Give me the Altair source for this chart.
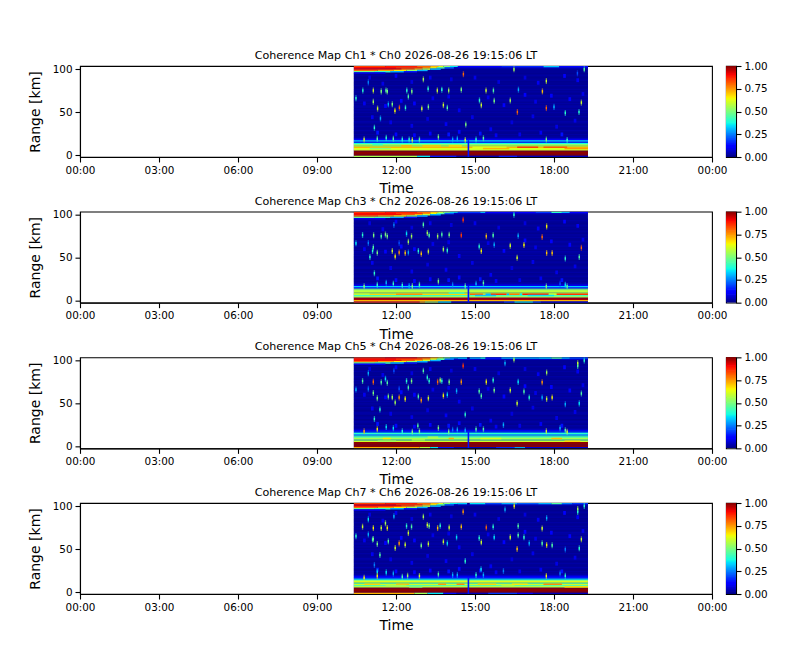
import altair as alt
import pandas as pd

FONT = "DejaVu Sans"
T0, T1 = 10.4, 19.29
Y_MIN, Y_MAX = -2.25, 103.5
HOUR_TICKS = [0, 3, 6, 9, 12, 15, 18, 21, 24]
RANGE_TICKS = [0, 50, 100]
BAR_TICKS = [0, 0.25, 0.5, 0.75, 1]
TITLES = ["Ch1 * Ch0", "Ch3 * Ch2", "Ch5 * Ch4", "Ch7 * Ch6"]
STAMP = "2026-08-26 19:15:06 LT"
JET_STOPS = [0, .11, .125, .34, .35, .375, .64, .65, .66, .89, .91, 1]
JET_COLORS = ["#000080", "#0000ff", "#0000ff", "#00dbff", "#00e5f8", "#15ffe2",
              "#eeff08", "#f6f600", "#ffec00", "#ff1300", "#f60000", "#800000"]
BAR_LEVELS = [i / 128 for i in range(128)]

# background rows, starting at 18.75 km, 1.5 km apart
BASE_ROWS = [.05, .03, .02, .03, .015, .02, .035, .02, .015, .03, .02, .015, .03, .035, .02, .015, .02, .03, .015, .02,
             .03, .02, .035, .02, .03, .035, .02, .03, .02, .035, .03, .02, .03, .035, .02, .015, .03, .02, .03, .015,
             .02, .03, .015, .02, .015, .03, .02, .015, .02, .03, .015]

# faint patches: hour, km, value
FAINT = [(11.0, 90, .08), (11.5, 83, .09), (12.0, 92, .1), (12.6, 85, .08), (13.3, 90, .09), (14.1, 88, .08),
         (15.0, 90, .09), (15.9, 85, .08), (16.9, 90, .08), (17.4, 84, .1), (18.4, 92, .11), (18.9, 87, .1),
         (10.8, 60, .1), (11.6, 57, .12), (12.2, 63, .13), (12.7, 60, .11), (13.4, 66, .09), (14.0, 68, .09),
         (14.4, 52, .1), (15.5, 67, .09), (16.1, 58, .11), (16.9, 70, .12), (17.3, 62, .09), (17.9, 69, .11),
         (18.6, 65, .12), (19.1, 71, .09), (11.1, 44, .1), (11.8, 38, .09), (12.6, 34, .09), (13.2, 42, .08),
         (13.9, 36, .1), (14.9, 44, .09), (15.6, 30, .1), (16.4, 38, .08), (17.2, 45, .09), (18.1, 33, .09),
         (18.8, 40, .09), (11.3, 26, .14), (12.0, 24, .13), (12.7, 23, .12), (13.3, 25, .12), (14.0, 24, .14),
         (14.4, 27, .13), (15.2, 25, .14), (15.8, 23, .1), (16.7, 24, .09), (17.5, 26, .1), (18.3, 24, .14)]

# top echo: hour from, hour to, row bottom km, value
TOP_BAND = [(10.4, 11.6, 102, .84), (11.6, 12.8, 102, .88), (12.8, 13.3, 102, .8), (13.3, 13.6, 102, .72), (13.6, 13.8, 102, .62),
            (13.8, 14.05, 102, .5), (14.05, 14.35, 102, .36),
            (10.4, 12.0, 100.5, .9), (12.0, 13.0, 100.5, .85), (13.0, 13.3, 100.5, .76), (13.3, 13.55, 100.5, .64), (13.55, 13.85, 100.5, .45),
            (13.85, 14.2, 100.5, .22), (14.2, T1, 100.5, .06),
            (10.4, 12.2, 99, .9), (12.2, 12.7, 99, .82), (12.7, 13.0, 99, .72), (13.0, 13.3, 99, .58), (13.3, 13.7, 99, .3),
            (10.4, 11.3, 97.5, .8), (11.3, 11.9, 97.5, .74), (11.9, 12.4, 97.5, .66), (12.4, 12.8, 97.5, .52), (12.8, 13.2, 97.5, .3),
            (10.4, 11.2, 96, .48), (11.2, 11.8, 96, .42), (11.8, 12.3, 96, .3), (12.3, 12.8, 96, .15),
            (10.4, 11.6, 94.5, .1)]

TOP_TAIL = [
    [(14.35, 16.0, .12), (16.0, 17.6, .16), (17.6, 18.2, .32), (18.2, T1, .13)],
    [(14.35, 15.2, .18), (15.2, 15.4, .3), (15.4, 17.3, .12), (17.3, 17.9, .18), (17.9, 18.3, .4), (18.3, 18.6, .3), (18.6, T1, .12)],
    [(14.35, 14.7, .33), (14.8, 15.2, .3), (15.2, 15.4, .38), (15.4, 16, .15), (16, 17.4, .3), (17.4, 17.9, .33),
     (17.9, 18.3, .45), (18.3, 18.6, .3), (18.6, T1, .2)],
    [(14.35, 14.7, .33), (14.8, 15.4, .35), (15.4, 16, .2), (16, 16.6, .3), (16.6, 17.4, .22), (17.4, 17.9, .3),
     (17.9, 18.3, .45), (18.3, 18.7, .25), (18.7, T1, .18)],
]

# low rows: bottom km, value
LOW_ROWS = [
    [(-.75, .99), (.75, .99), (2.25, .99), (3.75, .99), (5.25, .6), (6.75, .62), (8.25, .72), (9.75, .6), (11.25, .52),
     (12.75, .38), (14.25, .17), (15.75, .33), (17.25, .1)],
    [(-.75, .72), (.75, .97), (2.25, .97), (3.75, .56), (5.25, .42), (6.75, .68), (8.25, .55), (9.75, .58), (11.25, .56),
     (12.75, .5), (14.25, .14), (15.75, .33), (17.25, .1)],
    [(-.75, .99), (.75, .99), (2.25, .99), (3.75, .99), (5.25, .6), (6.75, .48), (8.25, .56), (9.75, .47), (11.25, .42),
     (12.75, .25), (14.25, .4), (15.75, .25), (17.25, .1)],
    [(-.75, .99), (.75, .99), (2.25, .99), (3.75, .99), (5.25, .6), (6.75, .45), (8.25, .6), (9.75, .45), (11.25, .62),
     (12.75, .52), (14.25, .36), (15.75, .15), (17.25, .1)],
]

# lowest row, time varying: hour from, hour to, value
BOTTOM_ROW = [
    [(T0, 12.8, .55), (12.8, 13.3, .35), (13.3, 14.3, .15), (14.3, 15.9, .04), (15.9, 16.6, .15), (16.6, T1, .05)],
    [(T0, 12.9, .86), (12.9, 13.1, .72), (13.1, 13.6, .55), (13.6, 14.1, .35), (14.1, 16.1, .05), (16.1, 16.5, .18),
     (16.5, 17.2, .36), (17.2, 17.5, .2), (17.5, T1, .07)],
    [(T0, 12.9, .72), (12.9, 13.3, .58), (13.3, 13.6, .35), (13.6, 14.2, .14), (14.2, 15.8, .05), (15.8, 16.5, .16),
     (16.5, 16.9, .28), (16.9, T1, .07)],
    [(T0, 12.7, .72), (12.7, 13.2, .55), (13.2, 13.8, .35), (13.8, 14.3, .14), (14.3, 15.5, .05), (15.5, 16.6, .18),
     (16.6, 17.2, .13), (17.2, T1, .05)],
]

# streaks in the low rows: hour from, hour to, row bottom km, value
STREAKS = [
    [(13.0, 13.7, 9.75, .7), (14.9, 16.2, 8.25, .62), (16.6, 17.4, 8.25, .85), (17.6, 18.5, 8.25, .82), (11.1, 11.5, 11.25, .42),
     (12.2, 12.6, 9.75, .72), (14.0, 14.5, 9.75, .68), (11.0, 11.8, 6.75, .52), (15.3, 16.3, 6.75, .72), (18.4, T1, 6.75, .75)],
    [(10.4, 11.0, 6.75, .58), (12.0, 13.0, 6.75, .75), (14.8, 15.3, 6.75, .8), (15.4, 15.6, 6.75, .3), (15.6, 16.2, 6.75, .86),
     (16.2, 16.3, 6.75, .3), (16.3, 16.7, 6.75, .78), (16.7, 16.8, 6.75, .35), (16.8, 17.8, 6.75, .88), (17.8, 18.1, 6.75, .6),
     (18.1, T1, 6.75, .85), (14.0, 14.6, 8.25, .42), (15.0, 15.8, 5.25, .32), (17.0, 18.0, 5.25, .35)],
    [(11.5, 11.8, 8.25, .66), (13.2, 13.6, 9.75, .55), (14.0, 14.2, 8.25, .72), (15.2, 16.0, 8.25, .62), (17.9, 18.3, 8.25, .7),
     (18.4, 19.0, 5.25, .68), (11.3, 12.0, 5.25, .55), (12.6, 13.1, 6.75, .56)],
    [(10.8, 11.4, 8.25, .68), (12.0, 12.5, 8.25, .7), (13.6, 13.9, 8.25, .74), (14.3, 14.6, 8.25, .76), (15.1, 15.8, 8.25, .68),
     (16.4, 17.0, 8.25, .66), (17.6, 18.3, 8.25, .76), (11.6, 12.4, 6.75, .54), (16.0, 16.5, 6.75, .55), (18.4, T1, 5.25, .68),
     (12.5, 13.0, 5.25, .5)],
]

# break in the record
GAP = [(14.72, 14.78, -2.25, 17.25, .14)]

# isolated returns: hour, km, value
SPIKES = [
    [(10.95, 84.5, .25), (13.04, 88, .55), (14.56, 94, .8), (16.48, 99.6, .55), (19.15, 99.6, .45), (18.89, 95, .2), (17.71, 86, .6),
     (11.14, 75, .6), (10.74, 75, .4), (11.44, 74, .5), (11.62, 75, .45), (11.67, 74, .5), (12.41, 75, .4), (12.6, 74, .5), (13.22, 77, .4),
     (13.57, 75, .6), (13.74, 76, .4), (14.0, 75, .55), (14.48, 76, .5), (15.42, 75, .6), (15.7, 75, .45), (16.65, 76, .3), (17.56, 74, .7),
     (10.48, 66, .4), (11.14, 62, .55), (12.47, 68, .45), (13.8, 58, .6), (13.95, 55, .45), (15.17, 63.5, .4), (15.24, 58, .6), (15.73, 63, .5),
     (16.34, 63.5, .55), (16.61, 50, .8), (17.71, 54.6, .8), (18.0, 56, .3), (19.04, 61, .6), (18.95, 50, .4), (18.43, 49, .4), (11.3, 54, .6),
     (11.71, 59, .3), (11.86, 59, .5), (11.96, 51.5, .65), (12.13, 55, .8), (12.36, 55, .4), (12.98, 54, .6), (13.23, 56, .5), (11.41, 42.6, .3),
     (11.18, 31.8, .4), (14.65, 35.6, .5),
     (10.79, 18, .6), (11.29, 19, .45), (11.63, 20, .4), (11.9, 19, .45), (12.24, 18, .4), (12.5, 18, .4), (12.62, 17.5, .6), (12.89, 18, .45),
     (13.61, 21, .5), (14.15, 18, .3), (14.33, 19, .3), (14.63, 17.5, .6), (15.04, 18, .4), (15.32, 19.5, .45), (17.71, 18, .5), (18.5, 17.5, .4)],
    [(14.55, 94, .85), (13.04, 88.4, .45), (17.72, 86.4, .65), (11.92, 88, .25), (10.73, 76.3, .4), (11.15, 76, .5), (11.44, 75, .45), (11.6, 77, .5),
     (11.67, 75, .5), (12.4, 78, .35), (12.59, 75, .55), (13.19, 78.7, .55), (13.26, 76, .45), (13.58, 75, .55), (13.74, 77, .45), (14.02, 76.7, .5),
     (14.48, 76, .85), (15.43, 75, .7), (15.69, 76, .45), (16.64, 75.6, .3), (17.55, 74, .8), (10.48, 66.7, .35), (11.14, 62, .45), (10.95, 67, .25),
     (12.47, 68.6, .55), (12.12, 67, .2), (13.8, 59.7, .55), (13.95, 58.5, .4), (15.16, 63, .4), (15.24, 57.7, .65), (15.73, 65, .3), (16.34, 64, .6),
     (16.86, 64.7, .65), (16.6, 50, .6), (17.72, 55.4, .7), (17.93, 55.4, .7), (19.04, 61.6, .8), (18.96, 50.8, .45), (18.43, 49, .4), (11.29, 55.8, .5),
     (11.11, 57.7, .4), (11.01, 50.8, .4), (11.97, 51.5, .65), (12.12, 56, .75), (12.35, 55.4, .7), (11.86, 57.7, .6), (12.85, 57.7, .4), (12.96, 54.6, .7),
     (13.23, 57.3, .6), (12.47, 56, .3), (16.48, 100, .4),
     (10.79, 16.7, .5), (11.18, 32, .4), (11.29, 18.6, .4), (11.63, 21, .3), (11.9, 19.8, .4), (12.24, 18, .4), (12.5, 17, .3), (12.62, 17, .5),
     (12.89, 18.6, .45), (13.61, 22.5, .5), (14.15, 18.6, .25), (14.63, 17, .45), (15.04, 19.8, .3), (15.32, 20.6, .45), (17.71, 16.7, .5),
     (18.43, 18.6, .35), (18.5, 16.7, .45), (18.23, 19.8, .2)],
    [(14.55, 93.6, .85), (13.04, 88, .45), (17.72, 85.9, .55), (18.9, 96.7, .6), (18.9, 93.5, .45), (19.15, 99.8, .4), (16.14, 96.7, .3), (10.95, 85, .3),
     (11.92, 88, .2), (10.73, 76, .45), (11.14, 75, .8), (11.44, 74.6, .45), (11.6, 78.5, .35), (11.67, 74, .45), (12.4, 76, .4), (12.59, 76, .5), (13.19, 80, .4),
     (13.26, 76, .4), (13.58, 75, .8), (13.68, 77, .55), (13.74, 76, .4), (14.02, 75, .5), (14.48, 75, .75), (15.43, 75, .65), (15.69, 77, .4), (16.64, 75, .35),
     (17.55, 74.6, .75), (10.48, 66, .3), (11.14, 62, .5), (10.95, 66.9, .25), (12.47, 68.4, .45), (12.12, 67, .2), (13.8, 59, .65), (13.95, 60, .35),
     (14.3, 64.5, .3), (15.16, 64, .45), (15.24, 58.7, .45), (15.73, 65.3, .5), (16.34, 65.3, .6), (16.86, 63.8, .45), (16.6, 50, .6), (17.72, 55, .6),
     (17.93, 56.8, .65), (19.04, 61.4, .45), (18.96, 50, .35), (18.43, 49, .3), (11.29, 56, .5), (11.71, 58, .5), (11.86, 57, .55), (11.97, 51, .55), (12.12, 56.8, .75),
     (12.35, 55.2, .65), (12.85, 58, .45), (12.96, 53.7, .75), (13.23, 56, .6), (11.39, 42.8, .4), (17.06, 56.8, .4), (17.55, 56.8, .3), (16.48, 101, .55),
     (10.79, 17.5, .72), (11.18, 31.8, .4), (11.29, 20, .65), (11.63, 22.5, .35), (11.9, 21, .35), (12.24, 17.5, .4), (12.62, 17, .5), (12.83, 24, .45),
     (12.89, 17.5, .5), (13.61, 21.4, .5), (14.0, 17, .5), (14.15, 19.4, .25), (14.33, 19.4, .3), (14.63, 37, .4), (14.63, 18.5, .3), (15.04, 20, .45),
     (15.32, 20, .45), (16.08, 25, .3), (17.71, 17.5, .6), (18.23, 21, .3), (18.43, 18.7, .45), (18.5, 17, .6)],
    [(14.55, 93.4, .75), (13.04, 87.6, .55), (17.72, 86, .3), (18.9, 96.5, .55), (18.9, 93, .4), (19.15, 100, .4), (16.14, 96, .3), (16.49, 100, .65), (10.95, 84.5, .35),
     (11.92, 88, .3), (10.73, 76, .6), (11.14, 74.4, .65), (11.44, 74.4, .6), (11.6, 80, .55), (11.67, 74.4, .65), (12.4, 76.8, .4), (12.59, 76, .45), (13.19, 78, .6),
     (13.26, 76.8, .5), (13.58, 74.4, .7), (13.68, 77, .4), (14.02, 75, .6), (14.48, 76, .7), (15.43, 75, .8), (15.69, 76, .4), (16.64, 76.8, .45), (17.55, 74, .6),
     (10.48, 65, .4), (11.14, 61.6, .5), (10.95, 67, .3), (12.47, 68.6, .6), (13.8, 58.5, .6), (13.95, 56.6, .35), (14.3, 63.6, .35), (15.16, 62.8, .4), (15.24, 57.8, .6),
     (15.73, 63.6, .35), (16.34, 63.6, .6), (16.86, 63.6, .4), (16.6, 50, .7), (17.72, 54.7, .65), (17.93, 54.3, .45), (19.04, 61.3, .6), (18.96, 50.8, .4), (18.43, 49.6, .25),
     (11.29, 55.8, .5), (11.11, 61, .45), (11.71, 59, .45), (11.97, 51.2, .6), (12.12, 56.6, .75), (12.35, 55, .6), (12.96, 54, .5), (13.23, 56, .6), (11.39, 43, .45),
     (17.55, 56.6, .45), (17.06, 56.8, .3), (16.64, 66, .45),
     (10.79, 16.7, .65), (11.18, 31.5, .25), (11.29, 23.7, .35), (11.29, 18.7, .65), (11.63, 22.9, .35), (11.9, 21.5, .3), (12.24, 17.9, .45), (12.44, 19, .55),
     (12.89, 18.7, .6), (13.61, 20.6, .45), (14.15, 19.8, .3), (14.33, 19.8, .3), (14.63, 36, .4), (15.04, 19.8, .4), (15.23, 26.4, .35), (15.32, 19.8, .3), (16.08, 24.5, .25),
     (17.71, 18.7, .65), (18.23, 21.5, .25), (18.43, 19, .4)],
]


def seg_rows(i):
    rows = [dict(t0=T0, t1=T1, r0=Y_MIN, r1=Y_MAX, v=.02)]
    for k, v in enumerate(BASE_ROWS):
        rows.append(dict(t0=T0, t1=T1, r0=18.75 + 1.5 * k, r1=20.45 + 1.5 * k, v=v))
    for r0, v in LOW_ROWS[i]:
        rows.append(dict(t0=T0, t1=T1, r0=r0, r1=r0 + 1.7, v=v))
    for t0, t1, v in BOTTOM_ROW[i]:
        rows.append(dict(t0=t0, t1=t1, r0=-2.25, r1=-.75, v=v))
    for t0, t1, r0, v in TOP_BAND + [(a, b, 102, c) for a, b, c in TOP_TAIL[i]] + STREAKS[i]:
        rows.append(dict(t0=t0, t1=t1, r0=r0, r1=r0 + 1.7, v=v))
    for h, r, v in FAINT:
        rows.append(dict(t0=h - .05, t1=h + .05, r0=r - 2.25, r1=r + 2.25, v=v))
    for t0, t1, r0, r1, v in GAP:
        rows.append(dict(t0=t0, t1=t1, r0=r0, r1=r1, v=v))
    return pd.DataFrame(rows)


def spike_rows(i, half):
    return pd.DataFrame([dict(t0=h - .025, t1=h + .025, r0=r - half, r1=r + half, v=v) for h, r, v in SPIKES[i]])


color = alt.Color("v:Q", legend=None,
                  scale=alt.Scale(domain=JET_STOPS, range=JET_COLORS, interpolate="rgb", clamp=True))
x_scale = alt.Scale(domain=[0, 24], nice=False, zero=False)
y_scale = alt.Scale(domain=[Y_MIN, Y_MAX], nice=False, zero=False)
x_axis = alt.Axis(title="Time", values=HOUR_TICKS, labelExpr="(datum.value%24<10?'0':'')+(datum.value%24)+':00'",
                  grid=False, titleFontSize=14, titleFontWeight="normal", titlePadding=6, labelFlush=False)
y_axis = alt.Axis(title="Range [km]", values=RANGE_TICKS, grid=False, titleFontSize=14, titleFontWeight="normal",
                  titlePadding=10, labelFlush=False)


def panel(i):
    enc = dict(x=alt.X("t0:Q", scale=x_scale, axis=x_axis), x2="t1:Q",
               y=alt.Y("r0:Q", scale=y_scale, axis=y_axis), y2="r1:Q", color=color)
    bg = alt.Chart(seg_rows(i)).mark_rect(clip=True).encode(**enc)
    halo = alt.Chart(spike_rows(i, 3.5)).mark_rect(clip=True, opacity=.5).encode(**enc)
    core = alt.Chart(spike_rows(i, 1.5)).mark_rect(clip=True).encode(**enc)
    return alt.layer(bg, halo, core).properties(
        width=632, height=91,
        title=alt.TitleParams(f"Coherence Map {TITLES[i]} {STAMP}", font=FONT, fontSize=11.1, fontWeight="normal",
                              anchor="middle", offset=3, color="black"))


def colorbar():
    df = pd.DataFrame({"v": BAR_LEVELS})
    df["v1"] = df.v + 2 / 128
    df["c"] = df.v + 1 / 256
    return alt.Chart(df).mark_rect(clip=True).encode(
        y=alt.Y("v:Q", scale=alt.Scale(domain=[0, 1], nice=False),
                axis=alt.Axis(orient="right", title=None, values=BAR_TICKS, format=".2f", grid=False, labelFlush=False)),
        y2="v1:Q",
        color=alt.Color("c:Q", legend=None,
                        scale=alt.Scale(domain=JET_STOPS, range=JET_COLORS, interpolate="rgb")),
    ).properties(width=10, height=91)


cells = []
for i in range(4):
    cells += [panel(i), colorbar()]

chart = alt.concat(*cells, columns=2, spacing={"row": 54.67, "column": 14}, bounds="flush").properties(
    padding={"left": 19, "top": 41, "right": 10, "bottom": 10}, background="white"
).configure_view(stroke="black", strokeWidth=1.1).configure_axis(
    domainColor="black", domainWidth=1.1, tickColor="black", tickWidth=1.1, tickSize=5,
    labelColor="black", titleColor="black", labelFont=FONT, titleFont=FONT,
    labelFontSize=10.4, labelPadding=3
)

chart.save("out.html", embed_options={"renderer": "svg", "actions": False})
